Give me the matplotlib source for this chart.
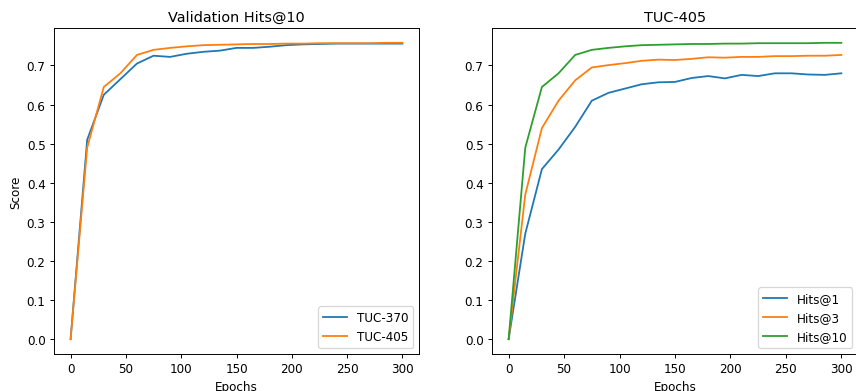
import numpy as np
import matplotlib
matplotlib.use('Agg')
import matplotlib.pyplot as plt

epochs = np.arange(0, 301, 15)

tuc370 = [0.0, 0.51, 0.625, 0.665, 0.705, 0.725, 0.722, 0.730, 0.735, 0.738, 0.745,
          0.745, 0.748, 0.752, 0.754, 0.755, 0.756, 0.756, 0.756, 0.756, 0.756]
tuc405 = [0.0, 0.49, 0.645, 0.680, 0.727, 0.740, 0.745, 0.749, 0.752, 0.753, 0.754,
          0.755, 0.755, 0.756, 0.756, 0.757, 0.757, 0.757, 0.757, 0.758, 0.758]

hits1 = [0.0, 0.27, 0.435, 0.485, 0.543, 0.610, 0.630, 0.641, 0.652, 0.657, 0.658,
         0.668, 0.673, 0.667, 0.676, 0.673, 0.680, 0.680, 0.677, 0.676, 0.680]
hits3 = [0.0, 0.37, 0.540, 0.610, 0.662, 0.695, 0.701, 0.706, 0.712, 0.715, 0.714,
         0.717, 0.721, 0.720, 0.722, 0.722, 0.724, 0.724, 0.725, 0.725, 0.727]
hits10 = tuc405

dpi = 86.4
fig = plt.figure(figsize=(856 / dpi, 392 / dpi), dpi=dpi)
ax1 = fig.add_axes([54 / 856, 37 / 392, 365 / 856, 326 / 392])
ax2 = fig.add_axes([492 / 856, 37 / 392, 366 / 856, 326 / 392])

ax1.plot(epochs, tuc370, label='TUC-370')
ax1.plot(epochs, tuc405, label='TUC-405')
ax1.set_title('Validation Hits@10')
ax1.set_xlabel('Epochs')
ax1.set_ylabel('Score')
ax1.legend(loc='lower right')

ax2.plot(epochs, hits1, label='Hits@1')
ax2.plot(epochs, hits3, label='Hits@3')
ax2.plot(epochs, hits10, label='Hits@10')
ax2.set_title('TUC-405')
ax2.set_xlabel('Epochs')
ax2.legend(loc='lower right')

fig.savefig('out.png', dpi=dpi)
